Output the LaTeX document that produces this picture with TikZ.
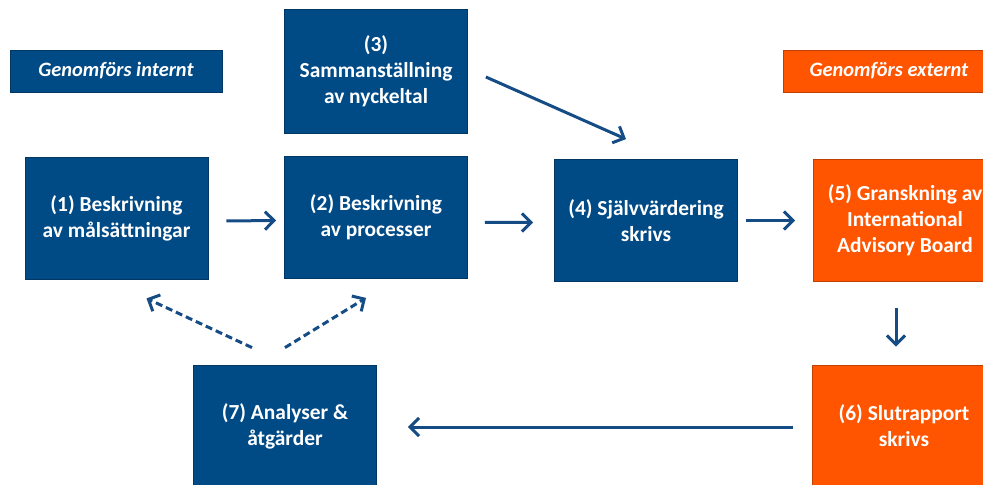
\documentclass[tikz,border=0pt]{standalone}
\usepackage{fontspec}
\setmainfont{Carlito}
\usetikzlibrary{positioning,arrows.meta}
\definecolor{boxblue}{RGB}{0,74,134}
\definecolor{boxorange}{RGB}{255,85,0}
\definecolor{arrowblue}{RGB}{22,76,134}

\tikzset{
  stepbox/.style={draw=boxblue!75!black, line width=0.8bp, fill=boxblue,
    text=white, align=center, inner sep=0pt,
    font=\bfseries\fontsize{21.5}{26}\selectfont,
    minimum width=183bp, minimum height=122bp},
  extbox/.style={stepbox, draw=boxorange!75!black, fill=boxorange},
  tagbox/.style={stepbox, font=\bfseries\itshape\fontsize{20.5}{26}\selectfont,
    minimum width=212bp, minimum height=42bp},
  flow/.style={draw=arrowblue, line width=3bp,
    -{Straight Barb[length=9bp,width=18bp]}},
  back/.style={flow, dash pattern=on 7bp off 4bp}
}

\begin{document}
\begin{tikzpicture}[x=1bp, y=-1bp]
\useasboundingbox (0,0) rectangle (983,485);
\clip (0,0) rectangle (983,485);

\node [tagbox] (intern) at (116,71) {Genomförs internt};
\node [tagbox, draw=boxorange!75!black, fill=boxorange] (extern) at (889,71) {Genomförs externt};

\node [stepbox] (mal) at (116.5,218) {(1) Beskrivning\\av målsättningar};
\node [stepbox] (proc) at (376,217.5) {(2) Beskrivning\\av processer};
\node [stepbox, minimum height=124bp] (nyck) at (376,71) {(3)\\Sammanställning\\av nyckeltal};
\node [stepbox] (sjalv) at (646,220.5) {(4) Självvärdering\\skrivs};
\node [extbox] (iab) at (905,220.5) {(5) Granskning av\\International\\Advisory Board};
\node [extbox] (slut) at (904,426) {(6) Slutrapport\\skrivs};
\node [stepbox] (atg) at (285,426) {(7) Analyser \&\\åtgärder};

\draw [flow] ([xshift=18bp,yshift=-3bp]mal.east) -- ([xshift=-8bp,yshift=-3bp]proc.west);
\draw [flow] ([xshift=17bp,yshift=-5bp]proc.east) -- ([xshift=-21bp,yshift=-2bp]sjalv.west);
\draw [flow] ([xshift=18bp,yshift=-6bp]nyck.east) -- ([xshift=-20bp,yshift=20bp]sjalv.north);
\draw [flow] ([xshift=8bp]sjalv.east) -- ([xshift=-18bp]iab.west);
\draw [flow] ([xshift=-9bp,yshift=-26bp]iab.south) -- ([xshift=-8bp,yshift=18bp]slut.north);
\draw [flow] ([xshift=-19bp,yshift=-1bp]slut.west) -- ([xshift=31bp,yshift=-1bp]atg.east);

\draw [back] ([xshift=-33bp,yshift=17bp]atg.north) -- ([xshift=30bp,yshift=-19bp]mal.south);
\draw [back] ([xshift=0bp,yshift=17bp]atg.north) -- ([xshift=-10bp,yshift=-19bp]proc.south);
\end{tikzpicture}
\end{document}
